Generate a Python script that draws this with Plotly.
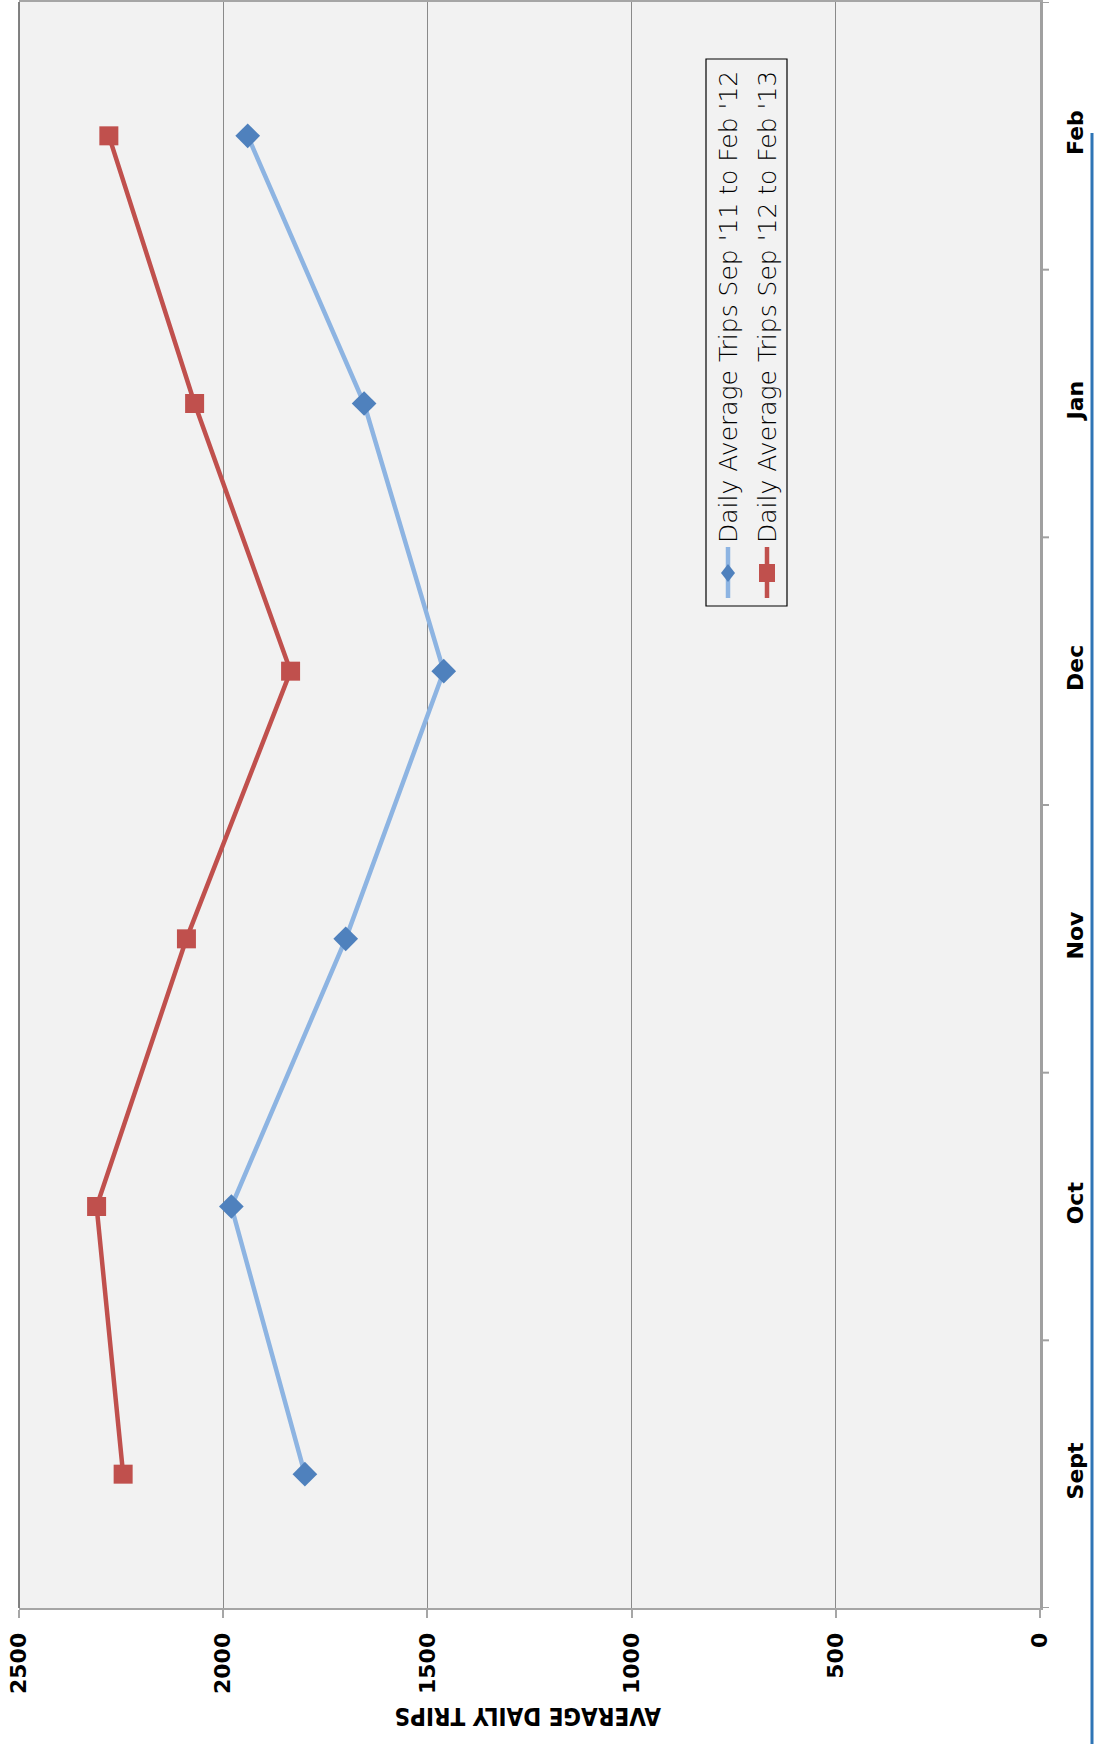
import plotly.graph_objects as go

months = ["Sept", "Oct", "Nov", "Dec", "Jan", "Feb"]
trips_2011_12 = [1800, 1980, 1700, 1460, 1655, 1940]
trips_2012_13 = [2245, 2310, 2090, 1835, 2070, 2280]
series_names = ["Daily Average Trips Sep '11 to Feb '12",
                "Daily Average Trips Sep '12 to Feb '13"]
value_ticks = [0, 500, 1000, 1500, 2000, 2500]
axis_title = "AVERAGE DAILY TRIPS"

W, H = 1094, 1744
ML, MR, MT, MB = 19, 54, 2, 136
PW, PH = W - ML - MR, H - MT - MB


def px(x):
    return (x - ML) / PW


def py(y):
    return (H - MB - y) / PH


BLUE_LINE = "#8db4e2"
BLUE_MK = "#4f81bd"
RED = "#c0504d"

ypos = list(range(len(months)))

fig = go.Figure()
fig.add_trace(go.Scatter(
    x=trips_2011_12, y=ypos, mode="lines+markers", name=series_names[0],
    line=dict(color=BLUE_LINE, width=4.5),
    marker=dict(symbol="diamond", size=19, color=BLUE_MK, line=dict(width=0)),
    showlegend=False))
fig.add_trace(go.Scatter(
    x=trips_2012_13, y=ypos, mode="lines+markers", name=series_names[1],
    line=dict(color=RED, width=4.5),
    marker=dict(symbol="square", size=19, color=RED, line=dict(width=0)),
    showlegend=False))

fig.update_layout(
    width=W, height=H,
    margin=dict(l=ML, r=MR, t=MT, b=MB, autoexpand=False),
    paper_bgcolor="white", plot_bgcolor="#f2f2f2",
    font=dict(family="DejaVu Sans", color="black"),
    xaxis=dict(
        range=[2500, 0], tickvals=value_ticks, ticktext=[str(v) for v in value_ticks],
        tickangle=-90, tickfont=dict(family="DejaVu Sans", size=22, weight="bold", color="black"),
        showgrid=True, gridcolor="#8a8a8a", gridwidth=1, zeroline=False,
        showline=True, linecolor="#a6a6a6", linewidth=2, mirror=True,
        ticks="outside", ticklen=8, tickcolor="#a6a6a6", tickwidth=2,
        ticklabelstandoff=6, automargin=False,
    ),
    yaxis=dict(
        range=[-0.5, len(months) - 0.5], tickvals=ypos, ticktext=months, side="right",
        tickangle=-90, tickfont=dict(family="DejaVu Sans", size=22, weight="bold", color="black"),
        showgrid=False, zeroline=False,
        showline=True, linecolor="#a0a0a0", linewidth=3,
        ticks="", automargin=False, ticklabelstandoff=14,
    ),
)

shapes = []
# category boundary tick marks on right axis
for k in range(len(months) + 1):
    shapes.append(dict(type="line", xref="paper", yref="y",
                       x0=1.0, x1=px(1049), y0=k - 0.5, y1=k - 0.5,
                       line=dict(color="#a0a0a0", width=2)))
# left border of plot area
shapes.append(dict(type="line", xref="paper", yref="paper", x0=0, x1=0, y0=0, y1=1,
                   line=dict(color="#595959", width=1.5)))
# legend box
shapes.append(dict(type="rect", xref="paper", yref="paper",
                   x0=px(706), x1=px(787), y0=py(606), y1=py(59),
                   line=dict(color="black", width=1.2), fillcolor="#f2f2f2"))
# legend symbols
for cx, col, mk in [(728, BLUE_LINE, "d"), (767, RED, "s")]:
    shapes.append(dict(type="line", xref="paper", yref="paper",
                       x0=px(cx), x1=px(cx), y0=py(547), y1=py(598),
                       line=dict(color=col, width=4.5)))
    cy = 573
    if mk == "d":
        path = "M {} {} L {} {} L {} {} L {} {} Z".format(
            px(cx), py(cy - 9), px(cx + 7), py(cy), px(cx), py(cy + 9), px(cx - 7), py(cy))
        shapes.append(dict(type="path", xref="paper", yref="paper", path=path,
                           fillcolor=BLUE_MK, line=dict(width=0)))
    else:
        shapes.append(dict(type="rect", xref="paper", yref="paper",
                           x0=px(cx - 8), x1=px(cx + 8), y0=py(cy + 9), y1=py(cy - 9),
                           fillcolor=RED, line=dict(width=0)))
# blue page edge line at the far right
shapes.append(dict(type="line", xref="paper", yref="paper",
                   x0=px(1092), x1=px(1092), y0=py(133), y1=py(1744),
                   line=dict(color="#2e75b6", width=3)))
fig.update_layout(shapes=shapes)

annotations = []
for cx, name in [(728, series_names[0]), (767, series_names[1])]:
    annotations.append(dict(
        x=px(cx), y=py(545), xref="paper", yref="paper", text=name,
        textangle=-90, showarrow=False, xanchor="center", yanchor="bottom",
        font=dict(family="DejaVu Sans", size=25, weight=300, color="black")))
annotations.append(dict(
    x=px(528), y=py(1716), xref="paper", yref="paper", text=axis_title,
    textangle=180, showarrow=False, xanchor="center", yanchor="middle",
    font=dict(family="DejaVu Sans Condensed, Roboto Condensed, DejaVu Sans",
              size=24, weight="bold", color="black")))
fig.update_layout(annotations=annotations)

fig.write_html(
    "out.html",
    config={"displayModeBar": False},
    post_script="document.body.style.margin='0';document.body.style.overflow='hidden';")
